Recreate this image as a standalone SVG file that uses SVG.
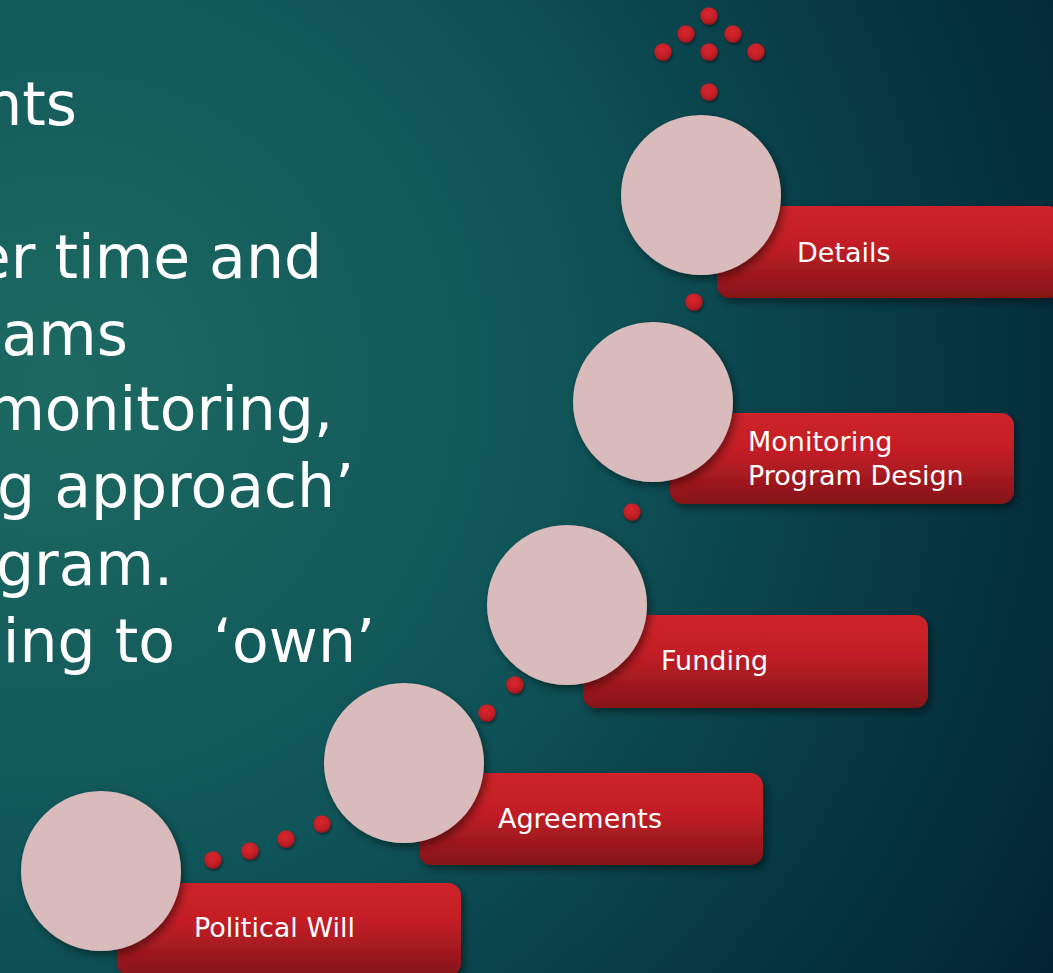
<svg xmlns="http://www.w3.org/2000/svg" width="1053" height="973" viewBox="0 0 1053 973">
<defs>
<radialGradient id="bg" gradientUnits="userSpaceOnUse" cx="60" cy="380" r="1150">
<stop offset="0" stop-color="#1d6a62"/>
<stop offset="0.45" stop-color="#0f5458"/>
<stop offset="0.8" stop-color="#053440"/>
<stop offset="1" stop-color="#032434"/>
</radialGradient>
<linearGradient id="red" x1="0" y1="0" x2="0" y2="1">
<stop offset="0" stop-color="#cd2129"/>
<stop offset="0.4" stop-color="#c41f27"/>
<stop offset="1" stop-color="#841418"/>
</linearGradient>
<radialGradient id="dot" cx="0.45" cy="0.35" r="0.65">
<stop offset="0" stop-color="#d9262e"/>
<stop offset="0.7" stop-color="#c01e25"/>
<stop offset="1" stop-color="#9a151b"/>
</radialGradient>
<filter id="sh" x="-20%" y="-20%" width="140%" height="150%">
<feDropShadow dx="3" dy="4" stdDeviation="4" flood-color="#000" flood-opacity="0.45"/>
</filter>
<filter id="dsh" x="-50%" y="-50%" width="200%" height="200%">
<feDropShadow dx="1" dy="2" stdDeviation="1.5" flood-color="#000" flood-opacity="0.45"/>
</filter>
</defs>
<style>
.big{font-family:"DejaVu Sans","Liberation Sans",sans-serif;font-size:60px;fill:#ffffff;text-anchor:end}
.lbl{font-family:"DejaVu Sans","Liberation Sans",sans-serif;font-size:27px;fill:#ffffff}
.bar{fill:url(#red);filter:url(#sh)}
.disc{fill:#d9bbbb;filter:url(#sh)}
.d{fill:url(#dot);filter:url(#dsh)}
</style>
<rect x="0" y="0" width="1053" height="973" fill="url(#bg)"/>
<g id="body-text">
<text class="big" x="77" y="125">nts</text>
<text class="big" x="322" y="278">er time and</text>
<text class="big" x="128" y="355">ams</text>
<text class="big" x="333" y="430">monitoring,</text>
<text class="big" x="354" y="507">g approach’</text>
<text class="big" x="173" y="585">gram.</text>
<text class="big" x="375" y="662" xml:space="preserve">ing to  ‘own’</text>
</g>
<g id="connectors">
<circle class="d" cx="709" cy="16" r="8.7"/>
<circle class="d" cx="686" cy="34" r="8.7"/>
<circle class="d" cx="733" cy="34" r="8.7"/>
<circle class="d" cx="663" cy="52" r="8.7"/>
<circle class="d" cx="709" cy="52" r="8.7"/>
<circle class="d" cx="756" cy="52" r="8.7"/>
<circle class="d" cx="709" cy="92" r="8.7"/>
<circle class="d" cx="694" cy="302" r="8.7"/>
<circle class="d" cx="632" cy="512" r="8.7"/>
<circle class="d" cx="515" cy="685" r="8.7"/>
<circle class="d" cx="487" cy="713" r="8.7"/>
<circle class="d" cx="322" cy="824" r="8.7"/>
<circle class="d" cx="286" cy="839" r="8.7"/>
<circle class="d" cx="250" cy="851" r="8.7"/>
<circle class="d" cx="213" cy="860" r="8.7"/>
</g>
<g id="node-political-will">
<rect class="bar" x="117" y="883" width="344" height="93" rx="13"/>
<circle class="disc" cx="101" cy="871" r="80"/>
<text class="lbl" x="194" y="937">Political Will</text>
</g>
<g id="node-agreements">
<rect class="bar" x="419" y="773" width="344" height="92" rx="13"/>
<circle class="disc" cx="404" cy="763" r="80"/>
<text class="lbl" x="498" y="828">Agreements</text>
</g>
<g id="node-funding">
<rect class="bar" x="583" y="615" width="345" height="93" rx="13"/>
<circle class="disc" cx="567" cy="605" r="80"/>
<text class="lbl" x="661" y="670">Funding</text>
</g>
<g id="node-monitoring">
<rect class="bar" x="670" y="413" width="344" height="91" rx="13"/>
<circle class="disc" cx="653" cy="402" r="80"/>
<text class="lbl" x="748" y="451">Monitoring</text>
<text class="lbl" x="748" y="485">Program Design</text>
</g>
<g id="node-details">
<rect class="bar" x="717" y="206" width="344" height="92" rx="13"/>
<circle class="disc" cx="701" cy="195" r="80"/>
<text class="lbl" x="797" y="262">Details</text>
</g>
</svg>
